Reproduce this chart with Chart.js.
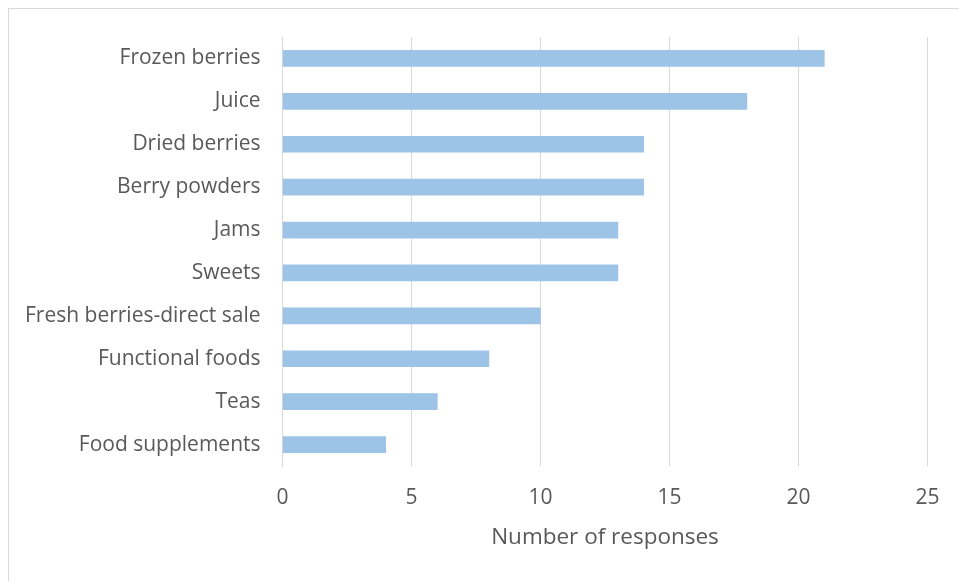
<!DOCTYPE html>
<html>
<head>
<meta charset="utf-8">
<script src="https://cdn.jsdelivr.net/npm/chart.js@4.4.1/dist/chart.umd.min.js"></script>
<style>
  html, body { margin: 0; padding: 0; background: #ffffff; }
  #wrap { position: relative; width: 959px; height: 581px; overflow: hidden; }
  #frame { position: absolute; left: 8px; top: 8px; width: 1000px; height: 1000px; border: 1px solid #d9d9d9; box-sizing: border-box; }
  canvas { position: absolute; left: 0; top: 0; }
</style>
</head>
<body>
<div id="wrap">
  <div id="frame"></div>
  <canvas id="c" width="959" height="581"></canvas>
</div>
<script>
const categories = ["Frozen berries", "Juice", "Dried berries", "Berry powders", "Jams", "Sweets", "Fresh berries-direct sale", "Functional foods", "Teas", "Food supplements"];
const responses = [21, 18, 14, 14, 13, 13, 10, 8, 6, 4];
const xTicks = [0, 5, 10, 15, 20, 25];
const xTitle = "Number of responses";

const FONT = "'Open Sans', sans-serif";
const TXT = "#595959";

new Chart(document.getElementById('c'), {
  type: 'bar',
  data: {
    labels: categories,
    datasets: [{
      data: responses,
      backgroundColor: '#9DC3E6',
      borderWidth: 0,
      barThickness: 16
    }]
  },
  options: {
    indexAxis: 'y',
    responsive: false,
    animation: false,
    layout: { padding: { left: 0, right: 31.5, top: 37, bottom: 20 } },
    plugins: { legend: { display: false }, tooltip: { enabled: false } },
    scales: {
      x: {
        min: 0, max: 25,
        afterBuildTicks: (s) => { s.ticks = xTicks.map(v => ({ value: v })); },
        grid: { color: '#d9d9d9', lineWidth: 1, drawTicks: false },
        border: { display: false },
        ticks: { color: TXT, font: { family: FONT, size: 21 }, padding: 19 },
        title: { display: true, text: xTitle, color: TXT, font: { family: FONT, size: 22.5 }, padding: { top: 4, bottom: 10 } },
        afterFit: (s) => { s.height = 95; }
      },
      y: {
        grid: { display: false, drawTicks: false },
        border: { display: true, color: '#d9d9d9', width: 1 },
        ticks: { color: TXT, font: { family: FONT, size: 21 }, padding: 22 },
        afterFit: (s) => { s.width = 282.5; }
      }
    }
  }
});
</script>
</body>
</html>
